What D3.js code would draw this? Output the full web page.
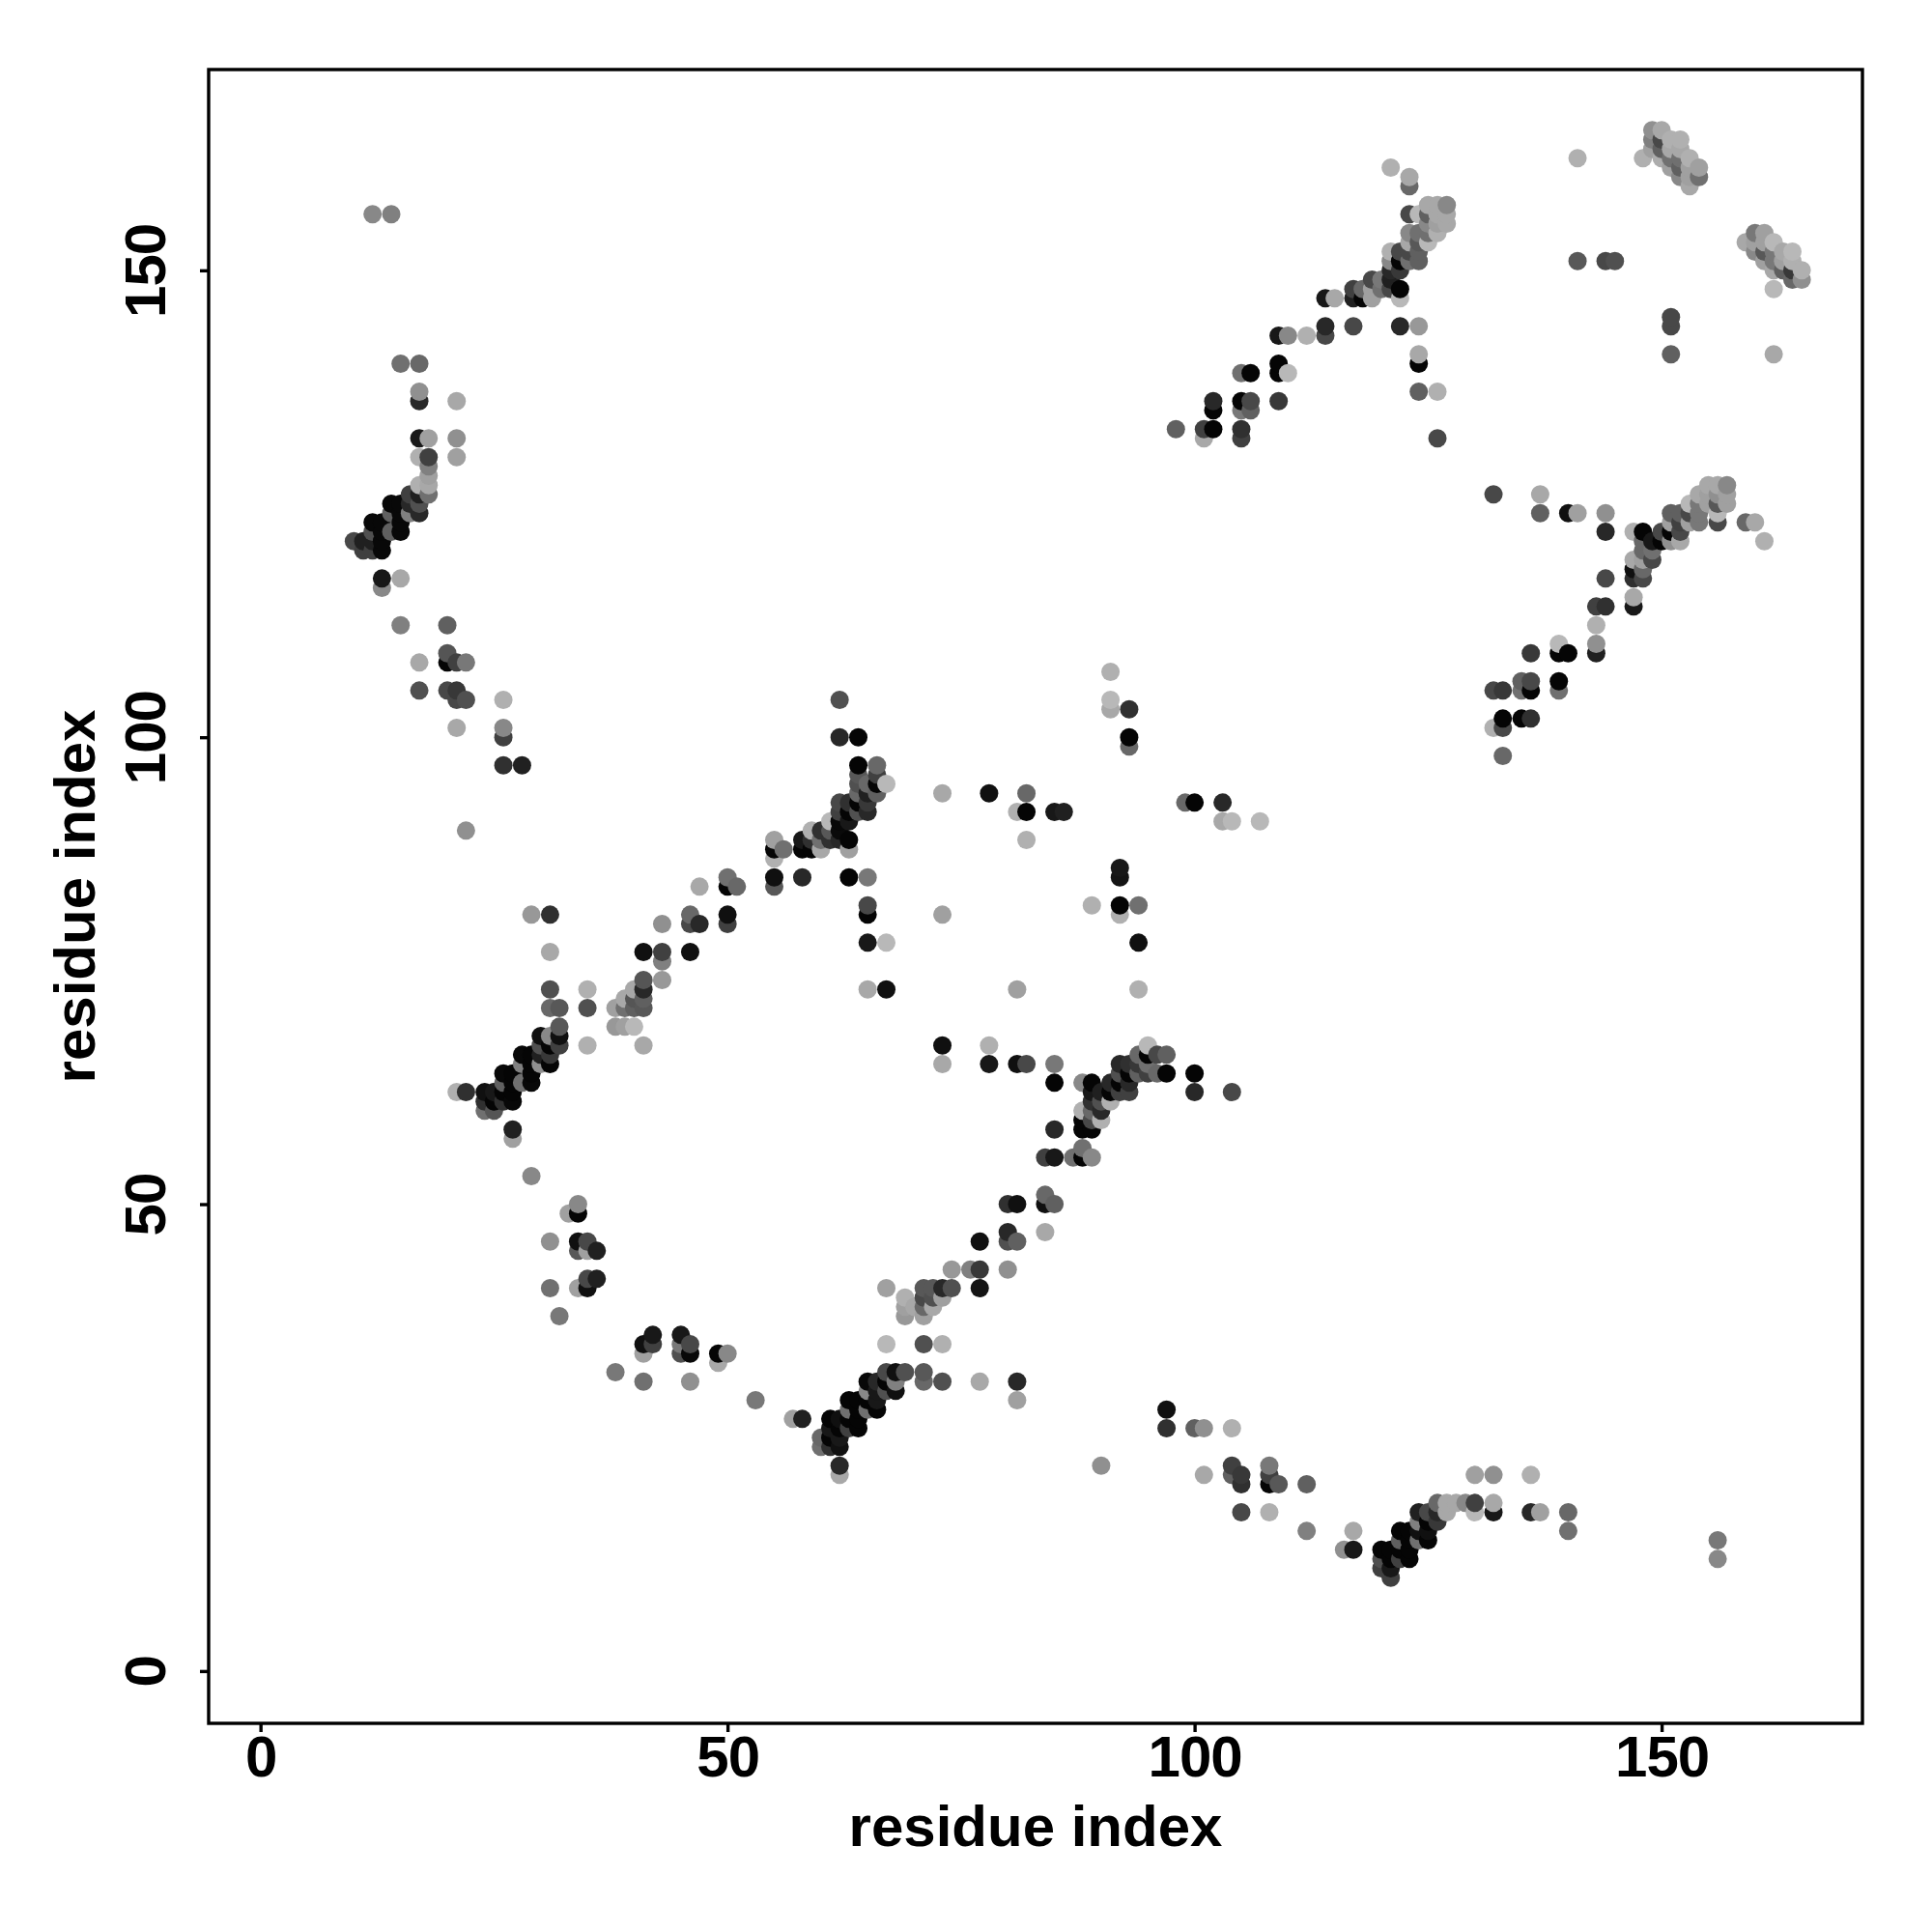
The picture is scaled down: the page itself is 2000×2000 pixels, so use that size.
<!DOCTYPE html>
<html>
<head>
<meta charset="utf-8">
<script src="https://cdn.jsdelivr.net/npm/d3@7"></script>
<style>
html,body{margin:0;padding:0;background:#fff}
text{font-family:"Liberation Sans",Arial,sans-serif;font-weight:700;fill:#000}
</style>
</head>
<body>
<svg id="chart" width="2000" height="2000"></svg>
<script>
// each contact: [residue x, residue y, grey level]
const upperLeftContacts = [
[12,156,136],[14,156,128],[15,140,112],[17,140,104],[17,136,40],[17,137,144],[21,136,168],[17,132,26],[18,132,160],[21,132,144],[17,130,176],[18,130,64],[21,130,160],
[18,129,128],[18,128,160],[18,127,168],[17,127,176],[18,126,112],[16,126,64],[17,126,32],[17,125,80],[17,124,40],[16,124,128],[14,125,8],[15,125,8],[15,124,8],[14,124,96],[16,125,40],
[12,123,8],[13,123,8],[15,123,8],[14,122,96],[15,122,8],[13,122,8],[12,122,80],[10,121,72],[11,121,32],[12,121,32],[13,121,8],[11,120,64],[12,120,64],[13,120,8],
[13,117,24],[15,117,168],[13,116,136],[15,112,128],[20,112,96],[20,109,85],[20,108,5],[21,108,64],[22,108,120],[17,108,168],[17,105,80],[20,105,72],[21,105,56],[21,104,72],[22,104,80],[26,104,176],
[21,101,168],[26,101,136],[26,100,64],[26,97,48],[28,97,32],[22,90,144]
];
const lowerLeftHelix = [
[29,81,152],[31,81,48],[31,77,168],[31,73,80],[35,73,176],[31,71,104],[32,71,88],[35,71,80],[32,69,88],[32,68,16],[32,67,64],[31,68,136],[30,68,16],[35,67,176],
[31,67,5],[30,67,80],[31,66,56],[31,65,5],[30,66,32],[28,66,8],[29,66,5],[29,65,5],[28,65,128],[30,65,144],[29,64,5],[29,63,8],[28,63,112],[27,64,5],[26,64,8],[26,63,96],[27,63,5],[27,62,5],[26,62,5],
[27,61,8],[26,61,48],[24,62,16],[25,62,24],[25,61,5],[24,61,48],[24,60,112],[25,60,85],[22,62,48],[21,62,176],[27,58,32],[27,57,160],[29,53,136]
];
const midDiagonalContacts = [
[43,80,144],[46,81,104],[46,80,72],[47,80,40],[50,81,16],[50,80,64],[41,77,16],[43,77,64],[43,76,128],[46,77,16],[43,74,152],
[41,74,85],[41,73,40],[40,73,168],[39,72,168],[40,72,85],[41,72,96],[40,71,96],[41,71,88],[39,71,112],[38,71,160],[38,69,152],[39,69,160],[40,69,184],[41,67,168],
[47,84,168],[50,85,112],[51,84,104],[50,84,5],[55,89,160],[55,88,5],[56,88,112],[55,87,176],[55,85,16],[55,84,88],[58,85,40],[63,85,5],[65,85,120],
[65,82,72],[65,81,5],[65,78,24],[67,78,184],[65,73,168],[67,73,16]
];
const peakContacts = [
[62,104,80],[62,100,40],[64,100,5],[64,97,5],[66,97,104],[66,96,64],[64,96,88],[67,95,184],[66,95,5],[65,95,104],[64,95,80],[64,94,104],[65,94,32],[66,94,96],
[62,93,72],[63,93,48],[64,93,5],[65,93,56],[62,92,64],[63,92,5],[64,92,80],[65,92,40],[62,91,8],[63,91,24],[61,91,184],[62,90,10],[60,90,48],[59,90,176],[61,90,88],
[58,89,24],[59,89,48],[60,89,112],[61,89,48],[62,89,40],[63,89,5],[58,88,5],[59,88,5],[60,88,168],[63,88,160]
];
const centralContacts = [
[91,107,176],[91,104,184],[91,103,168],[93,103,48],[93,100,5],[93,99,104],[73,94,168],[78,94,16],[82,94,104],[81,92,176],[82,92,5],[85,92,24],[86,92,32],[82,89,176],
[99,93,104],[100,93,5],[103,93,40],[103,91,168],[104,91,184],[107,91,184],[92,86,24],[92,85,20],[92,82,5],[92,81,176],[89,82,176],[94,82,112],[94,78,16],[73,81,160],[81,73,160],[94,73,176],
[73,67,16],[73,65,168],[78,67,176],[78,65,24],[81,65,16],[82,65,72],[85,65,120],[85,63,5]
];
const rightMidBranch = [
[88,63,136],[89,63,5],[89,62,24],[95,67,184],[94,66,104],[95,66,5],[96,66,72],[97,66,96],[92,65,40],[93,65,48],[94,65,56],[95,65,112],
[100,64,5],[100,62,40],[104,62,72],[97,64,5],[96,64,104],[95,64,64],[94,64,96],[93,64,5],[92,64,80],[91,63,40],[92,63,5],[93,63,40],[91,62,5],[92,62,64],[93,62,64],[90,62,32],
[89,61,48],[90,61,80],[91,61,176],[88,60,176],[89,60,104],[90,60,40],[88,59,5],[89,59,72],[90,59,176],[88,58,5],[89,58,5],[85,58,40],
[84,55,64],[85,55,24],[87,55,112],[88,56,112],[88,55,5],[89,55,136],[84,51,104],[84,50,16],[85,50,96],[80,50,48],[81,50,16]
];
const lowerDiagonalContacts = [
[77,46,16],[80,47,40],[80,46,80],[81,46,96],[84,47,168],[74,43,152],[76,43,128],[77,43,56],[80,43,144],[77,41,20],[67,41,160],[71,41,88],[72,41,88],[73,41,40],[74,41,80],
[69,40,176],[70,39,168],[71,40,72],[72,40,80],[73,40,160],[69,39,160],[71,39,104],[72,39,168],[69,38,152],[71,38,160],[67,35,184],[71,35,80],[73,35,176],
[71,32,88],[71,31,104],[73,31,80],[77,31,168],[81,31,40],[81,29,160],[67,32,72],[68,32,16],[69,32,80],[65,31,8],[66,31,40],[67,31,5],[68,31,128],
[65,30,136],[66,30,24],[67,30,80],[68,30,16],[63,29,5],[64,29,5],[65,29,5],[66,29,24],[63,28,112],[64,28,5],[65,28,112],[66,28,5],
[61,27,5],[62,27,16],[63,27,5],[64,27,5],[61,26,24],[60,25,104],[62,26,5],[63,26,64],[64,26,5],[61,25,5],[62,25,24],[60,24,112],[61,24,48],[62,24,16],[62,22,40],[62,21,168],
[58,27,32],[57,27,160],[90,22,144]
];
const bottomLeftArc = [
[34,50,136],[34,49,5],[33,49,160],[31,46,144],[34,46,16],[35,46,72],[34,45,88],[35,45,160],[36,45,32],[31,41,112],[34,41,160],[35,41,16],[35,42,72],[36,42,32],[32,38,120],
[41,35,16],[42,36,24],[42,35,64],[41,34,160],[45,36,24],[45,35,120],[46,35,72],[45,34,80],[46,34,8],[49,34,5],[50,34,136],[49,33,168],[38,32,120],[41,31,112],[46,31,144],[53,29,120]
];
const bottomRightContacts = [
[97,28,16],[97,26,48],[100,26,96],[101,26,144],[104,26,176],[101,21,168],[104,22,64],[104,21,96],[105,21,56],[105,20,48],[105,17,72],
[108,22,120],[108,21,64],[108,20,5],[109,20,88],[112,20,96],[108,17,176],[112,15,128],[117,15,168],[116,13,144],[117,13,24],
[121,10,64],[120,11,64],[121,11,24],[120,12,80],[121,12,5],[122,12,64],[123,12,5],[120,13,5],[121,13,5],[122,13,5],[123,13,5],[122,14,96],[123,14,5],[124,14,112],[125,14,5],[122,15,5],[123,15,5],
[124,15,16],[125,15,16],[124,16,128],[125,16,5],[126,16,56],[124,17,32],[125,17,72],[126,17,40],[126,18,104],[127,18,168],[128,18,168],[127,17,168],[129,18,136],[130,18,64],[130,17,184],[132,18,168],[132,17,24],
[130,21,160],[132,21,144],[136,21,176],[136,17,40],[137,17,160],[140,17,104],[140,15,112],[156,14,120],[156,12,136]
];
const upperDiagonalContacts = [
[121,161,176],[123,160,168],[123,159,104],[98,133,96],[101,133,64],[101,132,168],[102,133,5],[105,133,48],[105,132,64],[102,136,40],[102,135,5],[105,136,5],[106,136,72],[105,135,120],[106,135,96],[109,136,56],
[105,139,112],[106,139,5],[109,140,5],[109,139,5],[110,139,184],[109,143,24],[110,143,136],[112,143,176],[114,144,40],[114,143,72],[117,144,72],[122,144,40],[124,144,152],[124,141,168],[124,140,5],[124,137,96],[126,137,176],[126,132,72],
[114,147,24],[115,147,168],[117,148,64],[117,147,32],[118,147,5],[118,148,104],[119,147,160],[119,148,160],[119,149,72],[120,148,112],[120,149,120],[121,148,72],[122,148,5],[122,147,184],[121,149,32],[121,150,40],[122,150,56],
[121,151,136],[121,152,176],[122,151,5],[122,152,72],[123,151,112],[123,152,72],[124,151,96],[124,152,96],[123,153,168],[123,154,136],[124,153,88],[125,153,184],[124,154,112],[125,154,112],[126,154,176],
[123,156,72],[124,156,184],[125,156,96],[125,157,168],[126,157,168],[127,157,136],[126,156,168],[127,156,168],[127,155,168],[126,155,160],[125,155,136]
];
const rightBranchContacts = [
[132,126,72],[137,126,168],[137,124,96],[140,124,16],[141,124,160],[144,124,144],[144,122,40],[147,122,176],[148,122,5],[144,117,72],[143,114,64],[144,114,48],[147,114,24],[147,115,168],[143,112,176],[143,110,144],[143,109,32],
[139,110,184],[139,109,5],[140,109,5],[136,109,56],[135,106,96],[136,106,72],[139,106,5],[135,105,112],[136,105,5],[139,105,112],[132,105,72],[133,105,56],[133,102,5],[135,102,5],[136,102,48],[132,101,176],[133,101,72],[133,98,104],
[155,127,168],[156,127,168],[157,127,136],[154,126,168],[155,126,160],[156,126,144],[157,126,160],[153,125,184],[154,125,120],[155,125,160],[156,125,88],[157,125,160],
[151,124,96],[152,124,96],[153,124,72],[154,124,120],[156,124,184],[151,123,160],[152,123,64],[153,123,160],[154,123,120],[156,123,72],[150,122,72],[151,122,5],[152,122,72],
[149,121,24],[150,121,5],[151,121,144],[152,121,168],[148,121,104],[148,120,104],[149,120,112],[149,119,72],[148,119,160],[147,119,168],[147,118,16],[148,118,104],[147,117,48],[148,117,72],
[159,123,104],[160,123,168],[161,121,176]
];
const farUpperRightContacts = [
[141,162,176],[141,151,88],[144,151,72],[145,151,80],[151,145,72],[151,144,72],[151,141,96],[162,141,168],
[149,165,144],[150,165,168],[151,164,176],[152,164,176],[149,164,128],[150,164,72],[148,162,176],[150,163,96],[150,162,172],[149,163,160],[151,163,168],[152,163,168],[151,162,112],[152,162,112],[153,162,176],
[151,161,160],[152,161,96],[153,161,160],[154,161,160],[152,160,136],[153,160,160],[154,160,112],[153,159,168],
[160,154,120],[161,154,160],[159,153,168],[160,153,160],[161,153,160],[162,153,184],[160,152,136],[161,152,88],[162,152,120],[163,152,168],[164,152,184],[161,151,160],[162,151,120],[163,151,160],[164,151,176],
[162,150,168],[163,150,96],[164,150,56],[165,150,176],[164,149,104],[165,149,144],[162,148,184]
];
const tickValues = [0, 50, 100, 150];
const axisTitle = "residue index";

const contacts = d3.merge([upperLeftContacts, lowerLeftHelix, midDiagonalContacts, peakContacts, centralContacts,
  rightMidBranch, lowerDiagonalContacts, bottomLeftArc, bottomRightContacts, upperDiagonalContacts, rightBranchContacts, farUpperRightContacts])
  .sort((a, b) => d3.ascending(a[0], b[0]) || d3.ascending(a[1], b[1]));

const frame = {left: 216, right: 1928, top: 72, bottom: 1784};
const x = d3.scaleLinear().domain([-5.55, 171.5]).range([frame.left, frame.right]);
const y = d3.scaleLinear().domain([-5.6, 171.5]).range([frame.bottom, frame.top]);
const svg = d3.select("#chart");
const tickFont = 60;
const titleFont = 60;

svg.append("g").selectAll("circle").data(contacts).join("circle")
  .attr("cx", d => x(d[0])).attr("cy", d => y(d[1])).attr("r", 9.5)
  .attr("fill", d => d3.rgb(d[2], d[2], d[2]));

svg.append("rect").attr("x", frame.left).attr("y", frame.top)
  .attr("width", frame.right - frame.left).attr("height", frame.bottom - frame.top)
  .attr("fill", "none").attr("stroke", "#000").attr("stroke-width", 3.4);

const xAxis = svg.append("g").attr("transform", `translate(0,${frame.bottom})`)
  .call(d3.axisBottom(x).tickValues(tickValues).tickSize(9).tickFormat(d3.format("d")));
xAxis.select(".domain").remove();
xAxis.selectAll("line").attr("stroke", "#000").attr("stroke-width", 3.4);
xAxis.selectAll("text").attr("y", 55).attr("dy", 0).attr("font-size", tickFont)
  .style("font-family", '"Liberation Sans"').style("font-weight", 700).style("letter-spacing", "-1px");

const yAxis = svg.append("g").attr("transform", `translate(${frame.left},0)`)
  .call(d3.axisLeft(y).tickValues(tickValues).tickSize(9).tickFormat(d3.format("d")));
yAxis.select(".domain").remove();
yAxis.selectAll("line").attr("stroke", "#000").attr("stroke-width", 3.4);
yAxis.selectAll("text")
  .attr("x", 0).attr("y", 0).attr("dy", 0)
  .attr("transform", "translate(-45,0) rotate(-90)")
  .attr("text-anchor", "middle").attr("font-size", tickFont)
  .style("font-family", '"Liberation Sans"').style("font-weight", 700).style("letter-spacing", "-1px");

svg.append("text").attr("x", (frame.left + frame.right) / 2).attr("y", 1911)
  .attr("text-anchor", "middle").attr("font-size", titleFont).text(axisTitle);
svg.append("text").attr("transform", `translate(98,${(frame.top + frame.bottom) / 2}) rotate(-90)`)
  .attr("text-anchor", "middle").attr("font-size", titleFont).text(axisTitle);
</script>
</body>
</html>
